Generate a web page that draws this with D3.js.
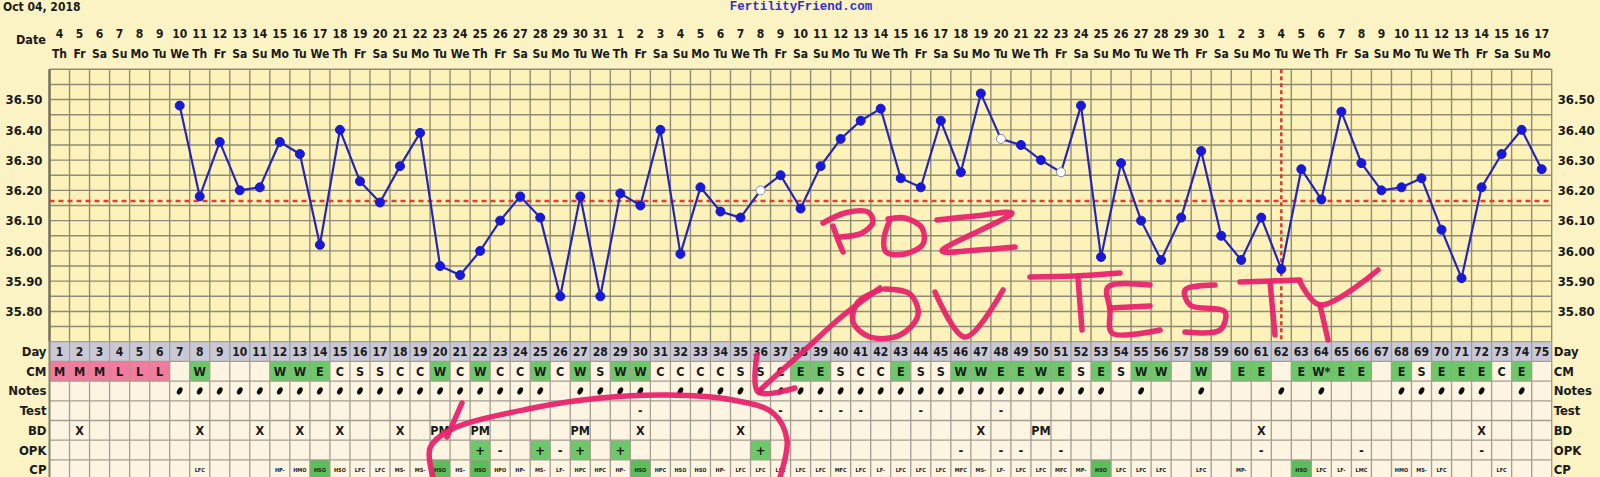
<!DOCTYPE html>
<html lang="en">
<head>
  <meta charset="UTF-8" />
  <title>Fertility chart</title>
  <script src="https://d3js.org/d3.v7.min.js"></script>
  <style>
    body { margin: 0; background: #fbf3c4; }
    svg { display: block; }
    text { font-family: "DejaVu Sans Condensed", "DejaVu Sans", sans-serif; font-weight: bold; fill: #1a1a1a; }
    .brand { font-family: "Liberation Mono", monospace; fill: #3030c8; }
    .ink { fill: none; stroke: #e8246c; stroke-width: 5.5; stroke-linecap: round; stroke-linejoin: round; opacity: 0.95; }
  </style>
</head>
<body>
<svg id="chart" width="1600" height="477"></svg>
<script>
// ---- data ----
const startDate = new Date(2018, 9, 4);
const weekdayNames = ["Su", "Mo", "Tu", "We", "Th", "Fr", "Sa"];
const days = d3.range(1, 76);
const temps = [null, null, null, null, null, null,
  36.48, 36.18, 36.36, 36.20, 36.21, 36.36, 36.32, 36.02, 36.40, 36.23,
  36.16, 36.28, 36.39, 35.95, 35.92, 36.00, 36.10, 36.18, 36.11, 35.85,
  36.18, 35.85, 36.19, 36.15, 36.40, 35.99, 36.21, 36.13, 36.11, 36.20,
  36.25, 36.14, 36.28, 36.37, 36.43, 36.47, 36.24, 36.21, 36.43, 36.26,
  36.52, 36.37, 36.35, 36.30, 36.26, 36.48, 35.98, 36.29, 36.10, 35.97,
  36.11, 36.33, 36.05, 35.97, 36.11, 35.94, 36.27, 36.17, 36.46, 36.29,
  36.20, 36.21, 36.24, 36.07, 35.91, 36.21, 36.32, 36.40, 36.27];
const openDays = [36, 48, 51];
const yTicks = [35.8, 35.9, 36.0, 36.1, 36.2, 36.3, 36.4, 36.5];
const coverline = 36.165;
const ovulationDay = 62;

const cm = ["M","M","M","L","L","L","","W","","","","W","W","E","C","S","S","C","C","W",
  "C","W","C","C","W","C","W","S","W","W","C","C","C","C","S","S","C","E","E","S",
  "C","C","E","S","S","W","W","E","E","W","E","S","E","S","W","W","","W","","E",
  "E","","E","W*","E","E","","E","S","E","E","E","C","E",""];
const noteDays = [7,8,9,10,11,12,13,14,15,16,17,18,19,20,21,22,23,24,25,27,28,29,30,
  32,33,34,35,36,37,38,39,40,41,42,43,44,45,46,47,48,49,50,51,52,53,55,58,62,64,68,69,70,71,72,74];
const testDays = [30, 37, 39, 40, 41, 44, 48];
const bd = {2:"X",8:"X",11:"X",13:"X",15:"X",18:"X",20:"PM",22:"PM",27:"PM",30:"X",35:"X",47:"X",50:"PM",61:"X",72:"X"};
const opk = {22:"+",23:"-",25:"+",26:"-",27:"+",29:"+",36:"+",46:"-",48:"-",49:"-",51:"-",61:"-",66:"-",72:"-"};
const cp = {8:"LFC",12:"HP-",13:"HMO",14:"HSO",15:"HSO",16:"LFC",17:"LFC",18:"MS-",19:"MS-",20:"HSO",
  21:"HS-",22:"HSO",23:"HPO",24:"HP-",25:"MS-",26:"LF-",27:"HPC",28:"HPC",29:"HP-",30:"HSO",31:"HPC",
  32:"HSO",33:"HSO",34:"HP-",35:"LFC",36:"LFC",37:"LFC",38:"LFC",39:"LFC",40:"MFC",41:"LFC",42:"LF-",
  43:"LFC",44:"LFC",45:"LFC",46:"MFC",47:"MS-",48:"LF-",49:"LFC",50:"LFC",51:"MFC",52:"MP-",53:"HSO",
  54:"LFC",55:"LFC",56:"LFC",58:"LFC",60:"MP-",63:"HSO",64:"LFC",65:"LF-",66:"LMC",68:"HMO",69:"MS-",
  70:"LFC",73:"LFC"};
const cpGreen = [14, 20, 22, 30, 53, 63];
const rowNames = ["Day", "CM", "Notes", "Test", "BD", "OPK", "CP"];

// ---- layout ----
const W = 1600, H = 477;
const pL = 49.5, pR = 1551.7, pT = 69.3, pB = 341.7, rowH = 19.7;

const svg = d3.select("#chart");
svg.append("rect").attr("width", W).attr("height", H).attr("fill", "#fbf3c4");

const x = d3.scaleBand().domain(days).range([pL, pR]).paddingInner(0).paddingOuter(0);
const bw = x.bandwidth();
const cx = d => x(d) + bw / 2;
const y = d3.scaleLinear().domain([35.70, 36.60]).range([pB, pT]);

// header
svg.append("text").attr("x", 3).attr("y", 11).attr("font-size", 12).text("Oct 04, 2018");
svg.append("text").attr("class", "brand").attr("x", 801).attr("y", 10).attr("font-size", 12.5)
  .attr("text-anchor", "middle").text("FertilityFriend.com");
svg.append("text").attr("x", 31).attr("y", 44).attr("font-size", 12.5).attr("text-anchor", "middle").text("Date");

const dates = days.map(d => d3.timeDay.offset(startDate, d - 1));
const dayFmt = d3.timeFormat("%-d");
svg.append("g").selectAll("text").data(days).join("text")
  .attr("x", d => cx(d)).attr("y", 38).attr("font-size", 12).attr("text-anchor", "middle")
  .text(d => dayFmt(dates[d - 1]));
svg.append("g").selectAll("text").data(days).join("text")
  .attr("x", d => cx(d)).attr("y", 58).attr("font-size", 12).attr("text-anchor", "middle")
  .text(d => weekdayNames[dates[d - 1].getDay()]);

// plot background + grid
svg.append("rect").attr("x", pL).attr("y", pT).attr("width", pR - pL).attr("height", pB - pT)
  .attr("fill", "#fcf2ba");
const gridY = d3.range(0, 19).map(i => 35.70 + i * 0.05);
svg.append("g").selectAll("line").data(gridY).join("line")
  .attr("x1", pL).attr("x2", pR).attr("y1", d => y(d)).attr("y2", d => y(d))
  .attr("stroke", "#8f8b76").attr("stroke-width", 1.4);
svg.append("g").selectAll("line").data(days.concat([76])).join("line")
  .attr("x1", d => d === 76 ? pR : x(d)).attr("x2", d => d === 76 ? pR : x(d))
  .attr("y1", pT).attr("y2", pB)
  .attr("stroke", "#8f8b76").attr("stroke-width", 1.4);
svg.append("line").attr("x1", pL).attr("x2", pL).attr("y1", pT).attr("y2", pB)
  .attr("stroke", "#77745c").attr("stroke-width", 2.5);

// axes
const axL = svg.append("g").attr("transform", `translate(${pL - 4},0)`)
  .call(d3.axisLeft(y).tickValues(yTicks).tickSize(0).tickFormat(d3.format(".2f")));
const axR = svg.append("g").attr("transform", `translate(${pR + 3},0)`)
  .call(d3.axisRight(y).tickValues(yTicks).tickSize(0).tickFormat(d3.format(".2f")));
[axL, axR].forEach(a => {
  a.select(".domain").remove();
  a.selectAll("text").attr("font-size", 13).attr("fill", "#1a1a1a");
  a.attr("font-family", null).attr("font-size", null);
});

// coverline and ovulation line
svg.append("line").attr("x1", pL).attr("x2", pR).attr("y1", y(coverline)).attr("y2", y(coverline))
  .attr("stroke", "#e0402e").attr("stroke-width", 2.6).attr("stroke-dasharray", "5,4");
svg.append("line").attr("x1", cx(ovulationDay)).attr("x2", cx(ovulationDay)).attr("y1", pT).attr("y2", pB)
  .attr("stroke", "#d8362a").attr("stroke-width", 2.4).attr("stroke-dasharray", "4,3");

// temperature line
const pts = days.filter(d => temps[d - 1] != null);
const line = d3.line().x(d => cx(d)).y(d => y(temps[d - 1]));
svg.append("path").attr("d", line(pts)).attr("fill", "none").attr("stroke", "#2626b4").attr("stroke-width", 2.2);
svg.append("g").selectAll("circle").data(pts).join("circle")
  .attr("cx", d => cx(d)).attr("cy", d => y(temps[d - 1])).attr("r", 4.5)
  .attr("fill", d => openDays.includes(d) ? "#ffffff" : "#1818d8")
  .attr("stroke", d => openDays.includes(d) ? "#8a8ab0" : "#1818d8").attr("stroke-width", 1);

// ---- table ----
const rowY = i => pB + i * rowH;
const tbl = svg.append("g");
rowNames.forEach((name, i) => {
  tbl.append("rect").attr("x", pL).attr("y", rowY(i)).attr("width", pR - pL).attr("height", rowH)
    .attr("fill", i === 0 ? "#c9c8d6" : "#fdf4e2");
  tbl.append("text").attr("x", pL - 3).attr("y", rowY(i) + rowH / 2 + 4.5).attr("font-size", 13)
    .attr("text-anchor", "end").text(name);
  tbl.append("text").attr("x", pR + 2).attr("y", rowY(i) + rowH / 2 + 4.5).attr("font-size", 13).text(name);
});

// coloured cells
const cmColor = v => (v === "M" || v === "L") ? "#f17c9c" : (v.startsWith("W") || v === "E") ? "#6dc86a" : null;
tbl.append("g").selectAll("rect").data(days.filter(d => cmColor(cm[d - 1]))).join("rect")
  .attr("x", d => x(d)).attr("y", rowY(1)).attr("width", bw).attr("height", rowH)
  .attr("fill", d => cmColor(cm[d - 1]));
tbl.append("g").selectAll("rect").data(days.filter(d => opk[d] === "+")).join("rect")
  .attr("x", d => x(d)).attr("y", rowY(5)).attr("width", bw).attr("height", rowH).attr("fill", "#6dc86a");
tbl.append("g").selectAll("rect").data(cpGreen).join("rect")
  .attr("x", d => x(d)).attr("y", rowY(6)).attr("width", bw).attr("height", rowH).attr("fill", "#5cbd5a");

// table grid
tbl.append("g").selectAll("line").data(d3.range(0, 8)).join("line")
  .attr("x1", pL).attr("x2", pR).attr("y1", i => rowY(i)).attr("y2", i => rowY(i))
  .attr("stroke", "#a29e92").attr("stroke-width", 1.3);
tbl.append("g").selectAll("line").data(days.concat([76])).join("line")
  .attr("x1", d => d === 76 ? pR : x(d)).attr("x2", d => d === 76 ? pR : x(d))
  .attr("y1", pB).attr("y2", H)
  .attr("stroke", "#a29e92").attr("stroke-width", 1.3);
tbl.append("line").attr("x1", pL).attr("x2", pL).attr("y1", pB).attr("y2", H)
  .attr("stroke", "#8a877a").attr("stroke-width", 2);

// cell texts
const cellText = (row, data, val, size) => tbl.append("g").selectAll("text").data(data).join("text")
  .attr("x", d => cx(d)).attr("y", rowY(row) + rowH / 2 + size * 0.36)
  .attr("font-size", size).attr("text-anchor", "middle").text(val);
cellText(0, days, d => d, 12);
cellText(1, days.filter(d => cm[d - 1]), d => cm[d - 1], 12.5)
  .attr("fill", d => cmColor(cm[d - 1]) === "#f17c9c" ? "#5a1020" : "#1a1a1a");
tbl.append("g").selectAll("ellipse").data(noteDays).join("ellipse")
  .attr("cx", d => cx(d)).attr("cy", rowY(2) + rowH / 2).attr("rx", 2.4).attr("ry", 3.9)
  .attr("transform", d => `rotate(30,${cx(d)},${rowY(2) + rowH / 2})`).attr("fill", "#111");
cellText(3, testDays, () => "-", 12);
cellText(4, Object.keys(bd).map(Number), d => bd[d], 12.5);
cellText(5, Object.keys(opk).map(Number), d => opk[d], 13);
cellText(6, Object.keys(cp).map(Number), d => cp[d], 5.5);

// ---- hand-written annotation ----
const strokes = [
  // P
  [[833, 226], [838, 240], [843, 252]],
  [[823, 223], [845, 213], [868, 212], [873, 222], [862, 233], [840, 237]],
  // O
  [[890, 220], [884, 238], [886, 252], [905, 254], [923, 244], [922, 228], [905, 218], [888, 219]],
  // Z
  [[937, 220], [975, 216], [1012, 213], [942, 251], [978, 250], [1015, 247]],
  // arrow
  [[880, 288], [840, 318], [805, 350], [780, 372], [760, 390]],
  [[757, 355], [758, 392], [795, 388]],
  // O V
  [[880, 290], [858, 302], [853, 322], [870, 337], [900, 335], [918, 315], [910, 294], [885, 289]],
  [[935, 292], [965, 337], [1003, 290]],
  // TESTY
  [[1030, 277], [1075, 276], [1120, 273]],
  [[1078, 278], [1082, 330]],
  [[1150, 285], [1108, 287], [1110, 310], [1112, 333], [1160, 330]],
  [[1110, 308], [1150, 306]],
  [[1215, 285], [1185, 290], [1190, 305], [1225, 312], [1220, 330], [1185, 332]],
  [[1240, 282], [1300, 280]],
  [[1270, 282], [1275, 335]],
  [[1300, 282], [1320, 305], [1378, 270]],
  [[1320, 305], [1328, 340]],
  // ellipse
  [[462, 403], [447, 437]],
  [[433, 477], [430, 448], [450, 430], [533, 408], [600, 398], [667, 395], [733, 400], [773, 413], [787, 440], [780, 477]]
];
const ink = d3.line().curve(d3.curveCatmullRom.alpha(0.5));
svg.append("g").selectAll("path").data(strokes).join("path").attr("class", "ink").attr("d", ink);
</script>
</body>
</html>
